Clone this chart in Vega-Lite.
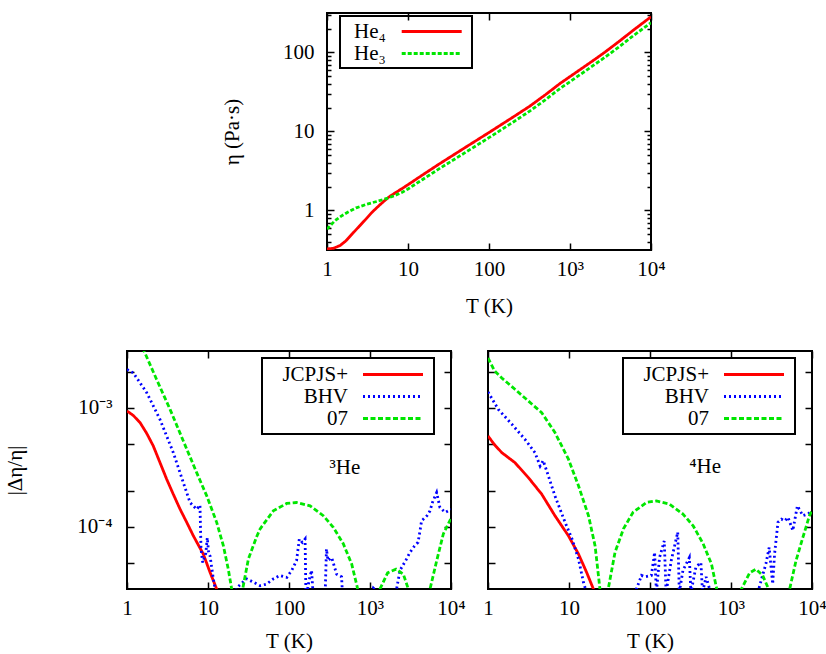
{
  "$schema": "https://vega.github.io/schema/vega-lite/v6.json",
  "background": "white",
  "padding": {"left": 2, "top": 11, "right": 2, "bottom": 2},
  "config": {
    "font": "Liberation Serif",
    "view": {"stroke": "black", "strokeWidth": 2},
    "axis": {"domain": false, "grid": false, "labelFont": "Liberation Serif", "labelFontSize": 21, "labelColor": "black", "titleFont": "Liberation Serif", "titleFontSize": 21, "titleFontWeight": "normal", "titleColor": "black", "tickColor": "black", "tickWidth": 1.5, "tickSize": -7, "labelFlush": false, "labelOverlap": false},
    "legend": {"labelFont": "Liberation Serif", "labelFontSize": 21, "labelColor": "black", "symbolType": "M-3,0H3", "symbolSize": 400, "symbolStrokeWidth": 2.8, "title": null, "orient": "none", "rowPadding": 0}
  },
  "datasets": {
    "top": [
      {"T": 1, "eta": 0.326, "s": "He₄"}, {"T": 1.2, "eta": 0.332, "s": "He₄"}, {"T": 1.45, "eta": 0.36, "s": "He₄"}, {"T": 1.7, "eta": 0.41, "s": "He₄"}, {"T": 2.1, "eta": 0.52, "s": "He₄"}, {"T": 2.5, "eta": 0.63, "s": "He₄"}, {"T": 3.1, "eta": 0.8, "s": "He₄"}, {"T": 3.6, "eta": 0.95, "s": "He₄"}, {"T": 4.5, "eta": 1.18, "s": "He₄"}, {"T": 5.7, "eta": 1.46, "s": "He₄"}, {"T": 7, "eta": 1.68, "s": "He₄"}, {"T": 8.5, "eta": 1.9, "s": "He₄"}, {"T": 10, "eta": 2.12, "s": "He₄"}, {"T": 15, "eta": 2.8, "s": "He₄"}, {"T": 25, "eta": 3.95, "s": "He₄"}, {"T": 50, "eta": 6.2, "s": "He₄"}, {"T": 100, "eta": 9.7, "s": "He₄"}, {"T": 200, "eta": 15.3, "s": "He₄"}, {"T": 321, "eta": 21, "s": "He₄"}, {"T": 500, "eta": 29.3, "s": "He₄"}, {"T": 753, "eta": 40.5, "s": "He₄"}, {"T": 1000, "eta": 49.5, "s": "He₄"}, {"T": 1500, "eta": 66, "s": "He₄"}, {"T": 2000, "eta": 81, "s": "He₄"}, {"T": 2700, "eta": 101, "s": "He₄"}, {"T": 4000, "eta": 137, "s": "He₄"}, {"T": 6000, "eta": 190, "s": "He₄"}, {"T": 10000, "eta": 283, "s": "He₄"},
      {"T": 1, "eta": 0.58, "s": "He₃"}, {"T": 1.25, "eta": 0.74, "s": "He₃"}, {"T": 1.5, "eta": 0.85, "s": "He₃"}, {"T": 1.8, "eta": 0.95, "s": "He₃"}, {"T": 2.3, "eta": 1.08, "s": "He₃"}, {"T": 3.1, "eta": 1.2, "s": "He₃"}, {"T": 4.1, "eta": 1.3, "s": "He₃"}, {"T": 5.5, "eta": 1.42, "s": "He₃"}, {"T": 7, "eta": 1.56, "s": "He₃"}, {"T": 8.5, "eta": 1.7, "s": "He₃"}, {"T": 10, "eta": 1.87, "s": "He₃"}, {"T": 15, "eta": 2.45, "s": "He₃"}, {"T": 25, "eta": 3.44, "s": "He₃"}, {"T": 50, "eta": 5.35, "s": "He₃"}, {"T": 100, "eta": 8.35, "s": "He₃"}, {"T": 200, "eta": 13.2, "s": "He₃"}, {"T": 321, "eta": 18.2, "s": "He₃"}, {"T": 500, "eta": 25.3, "s": "He₃"}, {"T": 753, "eta": 35, "s": "He₃"}, {"T": 1000, "eta": 42.7, "s": "He₃"}, {"T": 1500, "eta": 57, "s": "He₃"}, {"T": 2000, "eta": 70, "s": "He₃"}, {"T": 2700, "eta": 87, "s": "He₃"}, {"T": 4000, "eta": 117, "s": "He₃"}, {"T": 6000, "eta": 162, "s": "He₃"}, {"T": 10000, "eta": 238, "s": "He₃"}
    ],
    "he3": [
      {"T": 1, "d": 0.00094, "s": "JCPJS+"}, {"T": 1.2, "d": 0.00086, "s": "JCPJS+"}, {"T": 1.45, "d": 0.00075, "s": "JCPJS+"}, {"T": 1.75, "d": 0.00061, "s": "JCPJS+"}, {"T": 2.11, "d": 0.000478, "s": "JCPJS+"}, {"T": 2.6, "d": 0.000336, "s": "JCPJS+"}, {"T": 3.09, "d": 0.000251, "s": "JCPJS+"}, {"T": 3.7, "d": 0.00019, "s": "JCPJS+"}, {"T": 4.51, "d": 0.000141, "s": "JCPJS+"}, {"T": 5.5, "d": 0.000108, "s": "JCPJS+"}, {"T": 6.59, "d": 0.000084, "s": "JCPJS+"}, {"T": 8.75, "d": 0.000059, "s": "JCPJS+"}, {"T": 10.6, "d": 0.0000414, "s": "JCPJS+"}, {"T": 12.8, "d": 0.00003, "s": "JCPJS+"}, {"T": 15, "d": 0.00002, "s": "JCPJS+"},
      {"T": 1, "d": 0.0021, "s": "BHV"}, {"T": 1.2, "d": 0.00196, "s": "BHV"}, {"T": 1.75, "d": 0.00134, "s": "BHV"}, {"T": 2.55, "d": 0.0008, "s": "BHV"}, {"T": 3.73, "d": 0.00042, "s": "BHV"}, {"T": 4.96, "d": 0.000235, "s": "BHV"}, {"T": 6.0, "d": 0.00016, "s": "BHV"}, {"T": 7.25, "d": 0.00014, "s": "BHV"}, {"T": 7.96, "d": 0.000152, "s": "BHV"}, {"T": 8.2, "d": 0.000065, "s": "BHV"}, {"T": 8.6, "d": 0.00005, "s": "BHV"}, {"T": 9.4, "d": 0.00006, "s": "BHV"}, {"T": 9.8, "d": 0.000081, "s": "BHV"}, {"T": 10.2, "d": 0.00006, "s": "BHV"}, {"T": 10.6, "d": 0.000057, "s": "BHV"}, {"T": 11.6, "d": 0.000037, "s": "BHV"}, {"T": 12.8, "d": 0.000025, "s": "BHV"}, {"T": 16, "d": 0.000012, "s": "BHV"}, {"T": 20, "d": 0.000022, "s": "BHV"}, {"T": 23, "d": 0.000031, "s": "BHV"}, {"T": 30, "d": 0.0000365, "s": "BHV"}, {"T": 37, "d": 0.000034, "s": "BHV"}, {"T": 44, "d": 0.000032, "s": "BHV"}, {"T": 53, "d": 0.000033, "s": "BHV"}, {"T": 64, "d": 0.0000365, "s": "BHV"}, {"T": 77, "d": 0.000039, "s": "BHV"}, {"T": 94, "d": 0.0000376, "s": "BHV"}, {"T": 108, "d": 0.000043, "s": "BHV"}, {"T": 124, "d": 0.000052, "s": "BHV"}, {"T": 134, "d": 0.000079, "s": "BHV"}, {"T": 146, "d": 0.000074, "s": "BHV"}, {"T": 158, "d": 0.000079, "s": "BHV"}, {"T": 162, "d": 0.000025, "s": "BHV"}, {"T": 178, "d": 0.000036, "s": "BHV"}, {"T": 190, "d": 0.000043, "s": "BHV"}, {"T": 200, "d": 0.000025, "s": "BHV"}, {"T": 240, "d": 0.000018, "s": "BHV"}, {"T": 280, "d": 0.000028, "s": "BHV"}, {"T": 290, "d": 0.000065, "s": "BHV"}, {"T": 303, "d": 0.000052, "s": "BHV"}, {"T": 337, "d": 0.000055, "s": "BHV"}, {"T": 387, "d": 0.00004, "s": "BHV"}, {"T": 446, "d": 0.000038, "s": "BHV"}, {"T": 460, "d": 0.000025, "s": "BHV"}, {"T": 600, "d": 0.000015, "s": "BHV"}, {"T": 850, "d": 0.000018, "s": "BHV"}, {"T": 1100, "d": 0.0000305, "s": "BHV"}, {"T": 1250, "d": 0.000028, "s": "BHV"}, {"T": 1600, "d": 0.00002, "s": "BHV"}, {"T": 2000, "d": 0.000026, "s": "BHV"}, {"T": 2130, "d": 0.00003, "s": "BHV"}, {"T": 2345, "d": 0.000043, "s": "BHV"}, {"T": 2800, "d": 0.000053, "s": "BHV"}, {"T": 3120, "d": 0.000061, "s": "BHV"}, {"T": 3550, "d": 0.000069, "s": "BHV"}, {"T": 3920, "d": 0.000074, "s": "BHV"}, {"T": 4150, "d": 0.000093, "s": "BHV"}, {"T": 4330, "d": 0.000112, "s": "BHV"}, {"T": 5060, "d": 0.000124, "s": "BHV"}, {"T": 5500, "d": 0.000136, "s": "BHV"}, {"T": 5900, "d": 0.00016, "s": "BHV"}, {"T": 6650, "d": 0.000194, "s": "BHV"}, {"T": 7300, "d": 0.000145, "s": "BHV"}, {"T": 8500, "d": 0.000132, "s": "BHV"}, {"T": 10000, "d": 0.00014, "s": "BHV"},
      {"T": 1, "d": 0.0062, "s": "07"}, {"T": 1.59, "d": 0.0031, "s": "07"}, {"T": 2.32, "d": 0.00173, "s": "07"}, {"T": 3.4, "d": 0.00097, "s": "07"}, {"T": 4.96, "d": 0.000526, "s": "07"}, {"T": 7.25, "d": 0.000285, "s": "07"}, {"T": 9.64, "d": 0.000182, "s": "07"}, {"T": 12.8, "d": 0.000109, "s": "07"}, {"T": 15.5, "d": 0.000069, "s": "07"}, {"T": 17.8, "d": 0.000044, "s": "07"}, {"T": 19.6, "d": 0.00003, "s": "07"}, {"T": 21.5, "d": 0.000005, "s": "07"}, {"T": 22.5, "d": 0.000002, "s": "07"}, {"T": 24, "d": 0.000015, "s": "07"}, {"T": 26.8, "d": 0.00003, "s": "07"}, {"T": 31.5, "d": 0.0000535, "s": "07"}, {"T": 40, "d": 0.000083, "s": "07"}, {"T": 44, "d": 0.000096, "s": "07"}, {"T": 64, "d": 0.000136, "s": "07"}, {"T": 93.6, "d": 0.000157, "s": "07"}, {"T": 124, "d": 0.00016, "s": "07"}, {"T": 182, "d": 0.00015, "s": "07"}, {"T": 265, "d": 0.000124, "s": "07"}, {"T": 352, "d": 0.000099, "s": "07"}, {"T": 468, "d": 0.000072, "s": "07"}, {"T": 594, "d": 0.0000487, "s": "07"}, {"T": 697, "d": 0.000031, "s": "07"}, {"T": 800, "d": 0.000012, "s": "07"}, {"T": 900, "d": 0.000002, "s": "07"}, {"T": 1000, "d": 0.000008, "s": "07"}, {"T": 1150, "d": 0.00002, "s": "07"}, {"T": 1328, "d": 0.00003, "s": "07"}, {"T": 1650, "d": 0.000041, "s": "07"}, {"T": 2100, "d": 0.000044, "s": "07"}, {"T": 2578, "d": 0.00004, "s": "07"}, {"T": 2972, "d": 0.00003, "s": "07"}, {"T": 3500, "d": 0.000013, "s": "07"}, {"T": 4000, "d": 0.000001, "s": "07"}, {"T": 4700, "d": 0.000015, "s": "07"}, {"T": 5508, "d": 0.00003, "s": "07"}, {"T": 6660, "d": 0.0000519, "s": "07"}, {"T": 8040, "d": 0.000087, "s": "07"}, {"T": 10000, "d": 0.000118, "s": "07"}
    ],
    "he4": [
      {"T": 1, "d": 0.00058, "s": "JCPJS+"}, {"T": 1.2, "d": 0.00049, "s": "JCPJS+"}, {"T": 1.48, "d": 0.00042, "s": "JCPJS+"}, {"T": 2.15, "d": 0.000346, "s": "JCPJS+"}, {"T": 3.15, "d": 0.000259, "s": "JCPJS+"}, {"T": 4.6, "d": 0.000188, "s": "JCPJS+"}, {"T": 6.7, "d": 0.000124, "s": "JCPJS+"}, {"T": 9.84, "d": 0.000084, "s": "JCPJS+"}, {"T": 13.1, "d": 0.000059, "s": "JCPJS+"}, {"T": 16.5, "d": 0.0000414, "s": "JCPJS+"}, {"T": 20, "d": 0.00003, "s": "JCPJS+"}, {"T": 23, "d": 0.00002, "s": "JCPJS+"},
      {"T": 1, "d": 0.00136, "s": "BHV"}, {"T": 1.34, "d": 0.00097, "s": "BHV"}, {"T": 1.96, "d": 0.00073, "s": "BHV"}, {"T": 2.86, "d": 0.000543, "s": "BHV"}, {"T": 3.8, "d": 0.00042, "s": "BHV"}, {"T": 4.4, "d": 0.000324, "s": "BHV"}, {"T": 4.8, "d": 0.00036, "s": "BHV"}, {"T": 5.3, "d": 0.000295, "s": "BHV"}, {"T": 6.7, "d": 0.000182, "s": "BHV"}, {"T": 8.95, "d": 0.000109, "s": "BHV"}, {"T": 10.9, "d": 0.000079, "s": "BHV"}, {"T": 13.1, "d": 0.0000535, "s": "BHV"}, {"T": 15.1, "d": 0.000034, "s": "BHV"}, {"T": 16, "d": 0.00003, "s": "BHV"}, {"T": 18, "d": 0.000015, "s": "BHV"}, {"T": 30, "d": 0.000008, "s": "BHV"}, {"T": 55, "d": 0.000018, "s": "BHV"}, {"T": 68, "d": 0.00003, "s": "BHV"}, {"T": 78.6, "d": 0.000039, "s": "BHV"}, {"T": 86, "d": 0.000038, "s": "BHV"}, {"T": 104, "d": 0.000039, "s": "BHV"}, {"T": 114, "d": 0.000061, "s": "BHV"}, {"T": 120, "d": 0.000028, "s": "BHV"}, {"T": 131, "d": 0.000055, "s": "BHV"}, {"T": 150, "d": 0.000076, "s": "BHV"}, {"T": 158, "d": 0.000028, "s": "BHV"}, {"T": 183, "d": 0.000052, "s": "BHV"}, {"T": 220, "d": 0.00009, "s": "BHV"}, {"T": 230, "d": 0.000028, "s": "BHV"}, {"T": 255, "d": 0.000043, "s": "BHV"}, {"T": 306, "d": 0.000055, "s": "BHV"}, {"T": 320, "d": 0.000028, "s": "BHV"}, {"T": 369, "d": 0.000046, "s": "BHV"}, {"T": 425, "d": 0.00005, "s": "BHV"}, {"T": 445, "d": 0.000028, "s": "BHV"}, {"T": 493, "d": 0.000038, "s": "BHV"}, {"T": 560, "d": 0.000028, "s": "BHV"}, {"T": 700, "d": 0.00002, "s": "BHV"}, {"T": 887, "d": 0.00003, "s": "BHV"}, {"T": 1000, "d": 0.00002, "s": "BHV"}, {"T": 1400, "d": 0.000012, "s": "BHV"}, {"T": 1900, "d": 0.00002, "s": "BHV"}, {"T": 2200, "d": 0.00003, "s": "BHV"}, {"T": 2700, "d": 0.000049, "s": "BHV"}, {"T": 2960, "d": 0.000067, "s": "BHV"}, {"T": 3270, "d": 0.000033, "s": "BHV"}, {"T": 3450, "d": 0.000059, "s": "BHV"}, {"T": 3800, "d": 0.000109, "s": "BHV"}, {"T": 4200, "d": 0.000116, "s": "BHV"}, {"T": 4600, "d": 0.000112, "s": "BHV"}, {"T": 5060, "d": 0.00012, "s": "BHV"}, {"T": 5800, "d": 0.000093, "s": "BHV"}, {"T": 6600, "d": 0.00015, "s": "BHV"}, {"T": 7700, "d": 0.000124, "s": "BHV"}, {"T": 8900, "d": 0.000128, "s": "BHV"}, {"T": 10000, "d": 0.000136, "s": "BHV"},
      {"T": 1, "d": 0.00262, "s": "07"}, {"T": 1.2, "d": 0.00205, "s": "07"}, {"T": 1.48, "d": 0.00178, "s": "07"}, {"T": 2.15, "d": 0.00143, "s": "07"}, {"T": 3.15, "d": 0.00114, "s": "07"}, {"T": 4.6, "d": 0.00091, "s": "07"}, {"T": 6.7, "d": 0.00062, "s": "07"}, {"T": 9.84, "d": 0.00037, "s": "07"}, {"T": 13.1, "d": 0.000221, "s": "07"}, {"T": 17.4, "d": 0.000124, "s": "07"}, {"T": 21, "d": 0.000069, "s": "07"}, {"T": 24.1, "d": 0.00003, "s": "07"}, {"T": 25.5, "d": 0.000012, "s": "07"}, {"T": 26.5, "d": 0.000002, "s": "07"}, {"T": 28.5, "d": 0.000015, "s": "07"}, {"T": 30.5, "d": 0.00003, "s": "07"}, {"T": 37, "d": 0.000061, "s": "07"}, {"T": 47, "d": 0.000096, "s": "07"}, {"T": 61.6, "d": 0.000132, "s": "07"}, {"T": 90, "d": 0.00016, "s": "07"}, {"T": 120, "d": 0.000165, "s": "07"}, {"T": 174, "d": 0.000155, "s": "07"}, {"T": 255, "d": 0.000128, "s": "07"}, {"T": 341, "d": 0.000102, "s": "07"}, {"T": 453, "d": 0.000072, "s": "07"}, {"T": 574, "d": 0.0000487, "s": "07"}, {"T": 660, "d": 0.000031, "s": "07"}, {"T": 800, "d": 0.000011, "s": "07"}, {"T": 950, "d": 0.000001, "s": "07"}, {"T": 1100, "d": 0.000015, "s": "07"}, {"T": 1345, "d": 0.00003, "s": "07"}, {"T": 1700, "d": 0.000041, "s": "07"}, {"T": 2040, "d": 0.000044, "s": "07"}, {"T": 2460, "d": 0.000039, "s": "07"}, {"T": 2910, "d": 0.00003, "s": "07"}, {"T": 3500, "d": 0.00001, "s": "07"}, {"T": 4000, "d": 0.000001, "s": "07"}, {"T": 4600, "d": 0.000015, "s": "07"}, {"T": 5300, "d": 0.00003, "s": "07"}, {"T": 6350, "d": 0.000052, "s": "07"}, {"T": 7700, "d": 0.000081, "s": "07"}, {"T": 9300, "d": 0.000124, "s": "07"}, {"T": 10000, "d": 0.000136, "s": "07"}
    ]
  },
  "resolve": {"scale": {"color": "independent", "strokeDash": "independent"}, "legend": {"color": "independent", "strokeDash": "independent"}},
  "spacing": 32,
  "vconcat": [
    {
      "resolve": {"scale": {"color": "independent", "strokeDash": "independent"}, "legend": {"color": "independent", "strokeDash": "independent"}},
      "hconcat": [
        {
          "width": 180, "height": 237,
          "view": {"stroke": null},
          "data": {"values": []},
          "mark": {"type": "point", "opacity": 0}
        },
        {
          "width": 324, "height": 237,
          "data": {"name": "top"},
          "resolve": {"axis": {"x": "independent", "y": "independent"}},
          "layer": [
            {
              "mark": {"type": "line", "clip": true, "strokeWidth": 2.8},
              "encoding": {
                "x": {"field": "T", "type": "quantitative", "scale": {"type": "log", "domain": [1, 10000], "nice": false},
                      "axis": {"orient": "bottom", "values": [1, 10, 100, 1000, 10000], "labelExpr": "datum.value < 1.5 ? '1' : datum.value < 15 ? '10' : datum.value < 150 ? '100' : datum.value < 1500 ? '10³' : '10⁴'", "labelPadding": 15, "title": "T (K)", "titleY": 56, "titleBaseline": "middle"}},
                "y": {"field": "eta", "type": "quantitative", "scale": {"type": "log", "domain": [0.316, 316], "nice": false},
                      "axis": {"orient": "left", "values": [1, 10, 100], "labelExpr": "datum.value < 1.5 ? '1' : datum.value < 15 ? '10' : '100'", "labelPadding": 20, "title": "η (Pa·s)", "titleX": -95, "titleBaseline": "middle"}},
                "color": {"field": "s", "type": "nominal", "scale": {"domain": ["He₄", "He₃"], "range": ["#ff0000", "#00e600"]},
                          "legend": {"legendX": 13, "legendY": 3, "padding": 4, "labelAlign": "left", "labelOffset": -89.2, "symbolOffset": 76.2, "strokeColor": "black", "encode": {"legend": {"update": {"strokeWidth": {"value": 2}}}}}},
                "strokeDash": {"field": "s", "type": "nominal", "scale": {"domain": ["He₄", "He₃"], "range": [[1, 0], [4, 2]]},
                          "legend": {"legendX": 13, "legendY": 3, "padding": 4, "labelAlign": "left", "labelOffset": -89.2, "symbolOffset": 76.2, "strokeColor": "black", "encode": {"legend": {"update": {"strokeWidth": {"value": 2}}}}}}
              }
            },
            {
              "mark": {"type": "point", "opacity": 0, "clip": true},
              "encoding": {
                "x": {"field": "T", "type": "quantitative", "scale": {"type": "log", "domain": [1, 10000], "nice": false}, "axis": {"orient": "top", "values": [1, 10, 100, 1000, 10000], "labels": false, "title": null}},
                "y": {"field": "eta", "type": "quantitative", "scale": {"type": "log", "domain": [0.316, 316], "nice": false}, "axis": {"orient": "right", "values": [1, 10, 100], "labels": false, "title": null}}
              }
            },
            {
              "mark": {"type": "point", "opacity": 0, "clip": true},
              "encoding": {
                "x": {"field": "T", "type": "quantitative", "scale": {"type": "log", "domain": [1, 10000], "nice": false}, "axis": null},
                "y": {"field": "eta", "type": "quantitative", "scale": {"type": "log", "domain": [0.316, 316], "nice": false}, "axis": {"orient": "left", "values": [0.4, 0.5, 0.6, 0.7, 0.8, 0.9, 2, 3, 4, 5, 6, 7, 8, 9, 20, 30, 40, 50, 60, 70, 80, 90, 200, 300], "labels": false, "title": null, "tickSize": -4}}
              }
            },
            {
              "mark": {"type": "point", "opacity": 0, "clip": true},
              "encoding": {
                "x": {"field": "T", "type": "quantitative", "scale": {"type": "log", "domain": [1, 10000], "nice": false}, "axis": null},
                "y": {"field": "eta", "type": "quantitative", "scale": {"type": "log", "domain": [0.316, 316], "nice": false}, "axis": {"orient": "right", "values": [0.4, 0.5, 0.6, 0.7, 0.8, 0.9, 2, 3, 4, 5, 6, 7, 8, 9, 20, 30, 40, 50, 60, 70, 80, 90, 200, 300], "labels": false, "title": null, "tickSize": -4}}
              }
            }
          ]
        }
      ],
      "spacing": 20,
      "bounds": "flush"
    },
    {
      "resolve": {"scale": {"color": "independent", "strokeDash": "independent"}, "legend": {"color": "independent", "strokeDash": "independent"}},
      "hconcat": [
        {
          "width": 324, "height": 238,
          "data": {"name": "he3"},
          "resolve": {"axis": {"x": "independent", "y": "independent"}},
          "layer": [
            {
              "mark": {"type": "line", "clip": true, "strokeWidth": 2.8},
              "encoding": {
                "x": {"field": "T", "type": "quantitative", "scale": {"type": "log", "domain": [1, 10000], "nice": false},
                      "axis": {"orient": "bottom", "values": [1, 10, 100, 1000, 10000], "labelExpr": "datum.value < 1.5 ? '1' : datum.value < 15 ? '10' : datum.value < 150 ? '100' : datum.value < 1500 ? '10³' : '10⁴'", "labelPadding": 15, "title": "T (K)", "titleY": 52, "titleBaseline": "middle"}},
                "y": {"field": "d", "type": "quantitative", "scale": {"type": "log", "domain": [0.00003, 0.003], "nice": false},
                      "axis": {"orient": "left", "values": [0.002, 0.001, 0.0005, 0.0002, 0.0001, 0.00005], "labelExpr": "datum.value > 0.0009 && datum.value < 0.0011 ? '10⁻³' : (datum.value > 0.00009 && datum.value < 0.00011 ? '10⁻⁴' : '')", "labelPadding": 22, "title": "|Δη/η|", "titleX": -112, "titleBaseline": "middle"}},
                "color": {"field": "s", "type": "nominal", "scale": {"domain": ["JCPJS+", "BHV", "07"], "range": ["#ff0000", "#0000ff", "#00e600"]},
                          "legend": {"legendX": 135, "legendY": 7, "padding": 5, "labelAlign": "right", "labelOffset": -56.5, "symbolOffset": 114.5, "strokeColor": "black", "encode": {"legend": {"update": {"strokeWidth": {"value": 2}}}}}},
                "strokeDash": {"field": "s", "type": "nominal", "scale": {"domain": ["JCPJS+", "BHV", "07"], "range": [[1, 0], [2, 3], [5, 2.5]]},
                          "legend": {"legendX": 135, "legendY": 7, "padding": 5, "labelAlign": "right", "labelOffset": -56.5, "symbolOffset": 114.5, "strokeColor": "black", "encode": {"legend": {"update": {"strokeWidth": {"value": 2}}}}}}
              }
            },
            {
              "data": {"values": [{"T": 490, "d": 0.00031, "label": "³He"}]},
              "mark": {"type": "text", "fontSize": 21, "font": "Liberation Serif", "color": "black"},
              "encoding": {
                "x": {"field": "T", "type": "quantitative", "scale": {"type": "log", "domain": [1, 10000], "nice": false}, "axis": null},
                "y": {"field": "d", "type": "quantitative", "scale": {"type": "log", "domain": [0.00003, 0.003], "nice": false}, "axis": null},
                "text": {"field": "label"}
              }
            },
            {
              "transform": [{"filter": "datum.d >= 0.00003 && datum.d <= 0.003"}],
              "mark": {"type": "point", "opacity": 0, "clip": true},
              "encoding": {
                "x": {"field": "T", "type": "quantitative", "scale": {"type": "log", "domain": [1, 10000], "nice": false}, "axis": {"orient": "top", "values": [1, 10, 100, 1000, 10000], "labels": false, "title": null}},
                "y": {"field": "d", "type": "quantitative", "scale": {"type": "log", "domain": [0.00003, 0.003], "nice": false}, "axis": {"orient": "right", "values": [0.002, 0.001, 0.0005, 0.0002, 0.0001, 0.00005], "labels": false, "title": null}}
              }
            }
          ]
        },
        {
          "width": 324, "height": 238,
          "data": {"name": "he4"},
          "resolve": {"axis": {"x": "independent", "y": "independent"}},
          "layer": [
            {
              "mark": {"type": "line", "clip": true, "strokeWidth": 2.8},
              "encoding": {
                "x": {"field": "T", "type": "quantitative", "scale": {"type": "log", "domain": [1, 10000], "nice": false},
                      "axis": {"orient": "bottom", "values": [1, 10, 100, 1000, 10000], "labelExpr": "datum.value < 1.5 ? '1' : datum.value < 15 ? '10' : datum.value < 150 ? '100' : datum.value < 1500 ? '10³' : '10⁴'", "labelPadding": 15, "title": "T (K)", "titleY": 52, "titleBaseline": "middle"}},
                "y": {"field": "d", "type": "quantitative", "scale": {"type": "log", "domain": [0.00003, 0.003], "nice": false},
                      "axis": {"orient": "left", "values": [0.002, 0.001, 0.0005, 0.0002, 0.0001, 0.00005], "labels": false, "title": null}},
                "color": {"field": "s", "type": "nominal", "scale": {"domain": ["JCPJS+", "BHV", "07"], "range": ["#ff0000", "#0000ff", "#00e600"]},
                          "legend": {"legendX": 135, "legendY": 7, "padding": 5, "labelAlign": "right", "labelOffset": -56.5, "symbolOffset": 114.5, "strokeColor": "black", "encode": {"legend": {"update": {"strokeWidth": {"value": 2}}}}}},
                "strokeDash": {"field": "s", "type": "nominal", "scale": {"domain": ["JCPJS+", "BHV", "07"], "range": [[1, 0], [2, 3], [5, 2.5]]},
                          "legend": {"legendX": 135, "legendY": 7, "padding": 5, "labelAlign": "right", "labelOffset": -56.5, "symbolOffset": 114.5, "strokeColor": "black", "encode": {"legend": {"update": {"strokeWidth": {"value": 2}}}}}}
              }
            },
            {
              "data": {"values": [{"T": 480, "d": 0.00032, "label": "⁴He"}]},
              "mark": {"type": "text", "fontSize": 21, "font": "Liberation Serif", "color": "black"},
              "encoding": {
                "x": {"field": "T", "type": "quantitative", "scale": {"type": "log", "domain": [1, 10000], "nice": false}, "axis": null},
                "y": {"field": "d", "type": "quantitative", "scale": {"type": "log", "domain": [0.00003, 0.003], "nice": false}, "axis": null},
                "text": {"field": "label"}
              }
            },
            {
              "transform": [{"filter": "datum.d >= 0.00003 && datum.d <= 0.003"}],
              "mark": {"type": "point", "opacity": 0, "clip": true},
              "encoding": {
                "x": {"field": "T", "type": "quantitative", "scale": {"type": "log", "domain": [1, 10000], "nice": false}, "axis": {"orient": "top", "values": [1, 10, 100, 1000, 10000], "labels": false, "title": null}},
                "y": {"field": "d", "type": "quantitative", "scale": {"type": "log", "domain": [0.00003, 0.003], "nice": false}, "axis": {"orient": "right", "values": [0.002, 0.001, 0.0005, 0.0002, 0.0001, 0.00005], "labels": false, "title": null}}
              }
            }
          ]
        }
      ],
      "spacing": 37,
      "bounds": "flush"
    }
  ]
}
